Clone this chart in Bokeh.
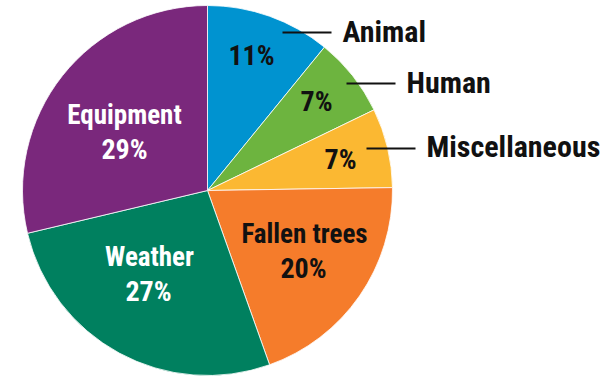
from math import pi

from bokeh.core.properties import value
from bokeh.embed import file_html
from bokeh.models import ColumnDataSource, Range1d
from bokeh.plotting import figure
from bokeh.resources import INLINE

# Causes of outages, share of total (percent)
categories = ["Animal", "Human", "Miscellaneous", "Fallen trees", "Weather", "Equipment"]
shares = [11, 7, 7, 20, 27, 29]
colors = ["#0093D0", "#6DB43F", "#FBB832", "#F57C2B", "#00805F", "#7A287C"]

W, H = 612, 377
CX, CY, R = 207, 190, 185  # pie centre and radius in pixels (y measured from the top)
FONT = "Roboto Condensed"


def fy(y):
    """Convert a top-down pixel row to the plot's bottom-up y coordinate."""
    return H - y


# Wedges run clockwise starting at 12 o'clock
total = float(sum(shares))
starts, ends = [], []
acc = 0.0
for s in shares:
    starts.append(pi / 2 - 2 * pi * acc / total)
    acc += s
    ends.append(pi / 2 - 2 * pi * acc / total)

src = ColumnDataSource(dict(cat=categories, share=shares, color=colors,
                            start=starts, end=ends))

p = figure(width=W, height=H, output_backend="svg", toolbar_location=None,
           x_range=Range1d(0, W), y_range=Range1d(0, H),
           min_border=0, outline_line_color=None)
p.axis.visible = False
p.grid.visible = False

p.wedge(x=CX, y=fy(CY), radius=R, radius_units="screen",
        start_angle="start", end_angle="end", direction="clock",
        fill_color="color", line_color="white", line_width=0.8, source=src)

pct = [f"{s}%" for s in shares]

# Percent labels inside the wedges: (x centre, middle row, colour)
pct_layout = [(251, 55, "#111111"), (316, 101, "#111111"), (340, 159, "#111111"),
              (303, 268, "#111111"), (148, 291, "white"), (124, 149, "white")]
p.text(x=[l[0] for l in pct_layout], y=[fy(l[1]) for l in pct_layout], text=pct,
       text_color=[l[2] for l in pct_layout], text_font=value(FONT),
       text_font_style="bold", text_font_size="28px",
       text_align="center", text_baseline="middle")

# Category names written inside the large wedges
inner = {"Fallen trees": (304, 233, "#111111"),
         "Weather": (149, 256, "white"),
         "Equipment": (124, 114, "white")}
p.text(x=[v[0] for v in inner.values()], y=[fy(v[1]) for v in inner.values()],
       text=list(inner.keys()), text_color=[v[2] for v in inner.values()],
       text_font=value(FONT), text_font_style="bold", text_font_size="27px",
       text_align="center", text_baseline="middle")

# Callouts for the small wedges: leader start (x, row), label middle row
callouts = {"Animal": (282, 32, 31), "Human": (346, 83, 82), "Miscellaneous": (366, 148, 146)}
LEAD = 49
p.segment(x0=[c[0] for c in callouts.values()], y0=[fy(c[1]) for c in callouts.values()],
          x1=[c[0] + LEAD for c in callouts.values()], y1=[fy(c[1]) for c in callouts.values()],
          line_color="#111111", line_width=2)
p.text(x=[c[0] + LEAD + 11 for c in callouts.values()], y=[fy(c[2]) for c in callouts.values()],
       text=list(callouts.keys()), text_color="#111111", text_font=value(FONT),
       text_font_style="bold", text_font_size="30px",
       text_align="left", text_baseline="middle")

open("out.html", "w").write(file_html(p, INLINE))
